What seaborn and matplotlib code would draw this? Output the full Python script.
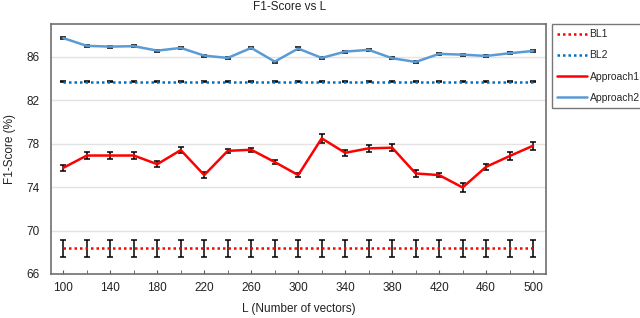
import matplotlib
matplotlib.use("Agg")
import matplotlib.pyplot as plt
import seaborn as sns
import pandas as pd
from matplotlib.ticker import MultipleLocator

# data
L = [100, 120, 140, 160, 180, 200, 220, 240, 260, 280, 300,
     320, 340, 360, 380, 400, 420, 440, 460, 480, 500]
bl1 = [68.35] * len(L)
bl1_err = [0.75] * len(L)
bl2 = [83.7] * len(L)
bl2_err = [0.05] * len(L)
approach1 = [75.77, 76.9, 76.9, 76.9, 76.1, 77.4, 75.1, 77.33, 77.43, 76.3, 75.1,
             78.48, 77.15, 77.56, 77.62, 75.25, 75.1, 73.96, 75.86, 76.85, 77.8]
approach1_err = [0.25, 0.3, 0.3, 0.3, 0.3, 0.3, 0.3, 0.2, 0.2, 0.15, 0.2,
                 0.4, 0.3, 0.35, 0.35, 0.3, 0.2, 0.4, 0.3, 0.35, 0.35]
approach2 = [87.7, 86.99, 86.92, 86.96, 86.55, 86.8, 86.09, 85.88, 86.8, 85.54, 86.74,
             85.88, 86.46, 86.62, 85.85, 85.51, 86.25, 86.18, 86.06, 86.31, 86.52]
approach2_err = [0.1] * len(L)
x_ticks = [100, 140, 180, 220, 260, 300, 340, 380, 420, 460, 500]
y_ticks = [66, 70, 74, 78, 82, 86]

series = ["BL1", "BL2", "Approach1", "Approach2"]
values = [bl1, bl2, approach1, approach2]
errors = [bl1_err, bl2_err, approach1_err, approach2_err]
colors = ["#ff0000", "#0070c0", "#ff0000", "#5b9bd5"]
styles = [(0, (1, 1.2)), (0, (1, 1.2)), "-", "-"]

df = pd.concat([pd.DataFrame({"L": L, "F1": v, "series": s}) for s, v in zip(series, values)])

sns.set_style("white")
plt.rcParams["font.family"] = ["Liberation Sans", "DejaVu Sans"]

fig = plt.figure(figsize=(6.4, 3.18), dpi=100)
ax = fig.add_axes([51 / 640, 1 - 274 / 318, 495 / 640, 250 / 318])

for s, err, c, ls in zip(series, errors, colors, styles):
    d = df[df["series"] == s]
    ax.errorbar(d["L"], d["F1"], yerr=err, fmt="none", ecolor="black",
                elinewidth=1.1, capsize=2, capthick=1.1, zorder=2)
    sns.lineplot(data=d, x="L", y="F1", ax=ax, color=c, linestyle=ls,
                 linewidth=1.8, label=s, zorder=3)

ax.set_xlim(89.5, 511)
ax.set_ylim(66, 89)
ax.set_xticks(x_ticks)
ax.xaxis.set_minor_locator(MultipleLocator(20))
ax.set_yticks(y_ticks)
ax.yaxis.grid(True, color="#e3e3e3", linewidth=1)
ax.tick_params(axis="x", which="both", direction="in", length=3, color="#555555",
               bottom=True, labelsize=8.5, pad=6, labelcolor="#222222")
ax.tick_params(axis="y", length=0, labelsize=8.5, pad=8, labelcolor="#222222")
for sp in ax.spines.values():
    sp.set_color("#6f6f6f")
    sp.set_linewidth(1.2)

ax.set_xlabel("L (Number of vectors)", fontsize=8.5, labelpad=6, color="#222222")
ax.set_ylabel("F1-Score (%)", fontsize=8.5, labelpad=8, color="#222222")
fig.text(290 / 640, 1 - 7 / 318, "F1-Score vs L", ha="center", va="center",
         fontsize=8.5, color="#222222")

leg = ax.legend(loc="upper left", bbox_to_anchor=(552 / 640, 1 - 24 / 318),
                bbox_transform=fig.transFigure, fontsize=7.5, frameon=True,
                fancybox=False, edgecolor="#555555", borderpad=0.5,
                labelspacing=1.07, handlelength=2.9, handletextpad=0.2,
                borderaxespad=0)
leg.get_frame().set_linewidth(1.0)

fig.savefig("out.png", dpi=100)
